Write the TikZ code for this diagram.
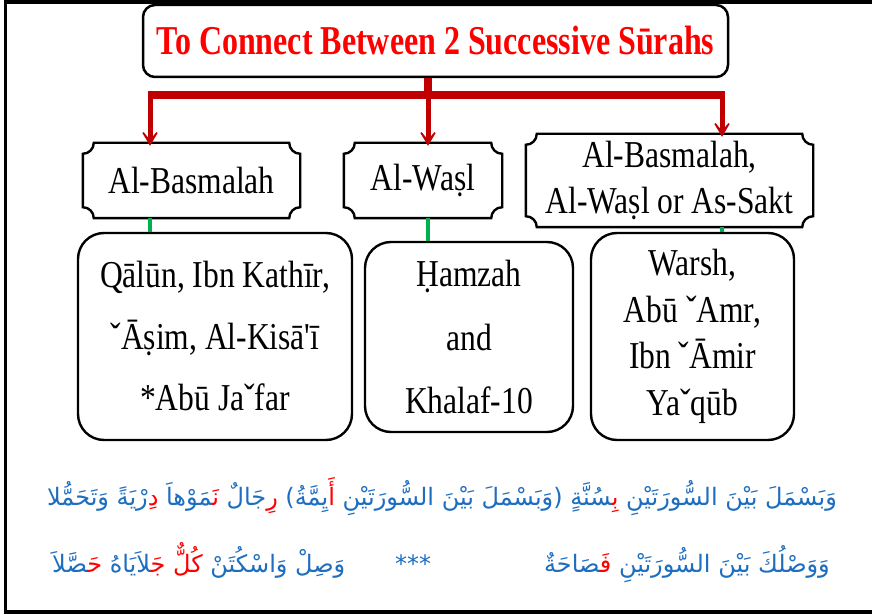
\documentclass[tikz,border=0pt]{standalone}
\usepackage{fontspec}
\usetikzlibrary{arrows.meta}
\setmainfont{Liberation Serif}
\newfontfamily\boxfont[FakeStretch=0.83]{Liberation Serif}
\newfontfamily\headfont[FakeStretch=0.78]{Liberation Serif}
% verse fonts carry their own colour, so right-to-left reordering keeps it intact
\newfontfamily\versefont[Script=Arabic,Color=1E6EC0]{DejaVu Sans}
\newfontfamily\versered[Script=Arabic,Color=FF0000]{DejaVu Sans}
\TeXXeTstate=1

\definecolor{framered}{RGB}{192,0,0}
\definecolor{titlered}{RGB}{255,0,0}
\definecolor{linkgreen}{RGB}{0,176,80}

% red letters inside a blue verse
\newcommand\rd[1]{{\versered#1}}
% frame with concave (inward) quarter-circle corners around a named node
\newcommand\plaqueradius{11pt}
\newcommand\plaqueframe[1]{%
  \draw[line width=2.4pt]
    ([xshift=\plaqueradius]#1.north west) -- ([xshift=-\plaqueradius]#1.north east)
    arc[start angle=180,end angle=270,radius=\plaqueradius]
    -- ([yshift=\plaqueradius]#1.south east)
    arc[start angle=90,end angle=180,radius=\plaqueradius]
    -- ([xshift=\plaqueradius]#1.south west)
    arc[start angle=0,end angle=90,radius=\plaqueradius]
    -- ([yshift=-\plaqueradius]#1.north west)
    arc[start angle=270,end angle=360,radius=\plaqueradius]
    -- cycle;}

\begin{document}
\begin{tikzpicture}[x=1pt,y=1pt,
  titlebox/.style={draw,line width=2.5pt,rounded corners=12pt,inner sep=0pt,
    text=titlered,font={\headfont\bfseries\fontsize{41}{44}\selectfont}},
  plaque/.style={inner sep=0pt,align=center,
    font={\boxfont\fontsize{38}{46}\selectfont}},
  roundbox/.style={draw,line width=2.4pt,rounded corners=26pt,inner sep=0pt,align=center},
  trunk/.style={draw=framered,line width=8pt},
  drop/.style={draw=framered,line width=5pt,-{Stealth[length=21pt,width=25pt,inset=15pt]}},
  link/.style={draw=linkgreen,line width=3.5pt},
  verse/.style={inner sep=0pt,font={\versefont\fontsize{24}{28}\selectfont}}]

\useasboundingbox (0,0) rectangle (872,614);
\fill[white] (0,0) rectangle (872,614);
\draw[line width=3.5pt] (880,611.8) -- (5.5,611.8) -- (5.5,2.2) -- (880,2.2);

% heading
\node[titlebox,minimum width=585pt,minimum height=72pt] (title) at (435.5,573)
  {To Connect Between 2 Successive Sūrahs};

% the three ways
\node[plaque,minimum width=217pt,minimum height=75pt] (P1) at (191.5,433.5) {Al-Basmalah};
\node[plaque,minimum width=158pt,minimum height=75pt] (P2) at (423,433.5) {Al-Waṣl};
\node[plaque,minimum width=287pt,minimum height=93pt] (P3) at (669.5,433.5)
  {Al-Basmalah,\\Al-Waṣl or As-Sakt};
\foreach \p in {P1,P2,P3} {\plaqueframe{\p}}

% the readers
\node[roundbox,minimum width=274pt,minimum height=207pt,
  font={\boxfont\fontsize{38}{61.5}\selectfont}] (A) at (215,277.5)
  {Qālūn, Ibn Kathīr,\\ˇĀṣim, Al-Kisā'ī\\*Abū Jaˇfar};
\node[roundbox,minimum width=208pt,minimum height=190pt,
  font={\boxfont\fontsize{38}{63}\selectfont}] (B) at (469,277)
  {Ḥamzah\\and\\Khalaf-10};
\node[roundbox,minimum width=203pt,minimum height=207pt,
  font={\boxfont\fontsize{38}{46.7}\selectfont}] (C) at (692.5,277.5)
  {Warsh,\\Abū ˇAmr,\\Ibn ˇĀmir\\Yaˇqūb};

% red distribution bar and arrows
\coordinate (jL) at (150,519);
\coordinate (jM) at (428,519);
\coordinate (jR) at (722,519);
\draw[trunk] (title.south -| jM) -- (jM);
\draw[trunk] ([xshift=-2.5pt]jL) -- ([xshift=2.5pt]jR);
\draw[drop] (jL) -- ([yshift=-3pt]P1.north -| jL);
\draw[drop] (jM) -- ([yshift=-3pt]P2.north -| jM);
\draw[drop] (jR) -- ([yshift=-3pt]P3.north -| jR);

% green links
\draw[link] (P1.south -| jL) -- (A.north -| jL);
\draw[link] (P2.south -| jM) -- (B.north -| jM);
\draw[link] (P3.south -| jR) -- (C.north -| jR);

% verses
\node[verse,anchor=base] (v1) at (442,109)
  {\beginR وَبَسْمَلَ بَيْنَ السُّورَتَيْنِ \rd{بِ^^^^200d}^^^^200dسُنَّةٍ
   (\kern0pt وَبَسْمَلَ بَيْنَ السُّورَتَيْنِ \rd{أَ}يِمَّةُ\kern0pt)
   \rd{رِ}جَالٌ \rd{نَ^^^^200d}^^^^200dمَوْهاَ \rd{دِ}رْيَةً وَتَحَمُّلا\endR};
\node[verse,anchor=base east] (v2r) at (830,42)
  {\beginR وَوَصْلُكَ بَيْنَ السُّورَتَيْنِ \rd{فَ^^^^200d}^^^^200dصَاحَةٌ\endR};
\node[verse,anchor=base] (stars) at (413,42) {***};
\node[verse,anchor=base west] (v2l) at (52,42)
  {\beginR وَصِلْ وَاسْكُتَنْ \rd{كُلٌّ} \rd{جَ^^^^200d}^^^^200dلاَيَاهُ
   \rd{حَ^^^^200d}^^^^200dصَّلاَ\endR};
\end{tikzpicture}
\end{document}
